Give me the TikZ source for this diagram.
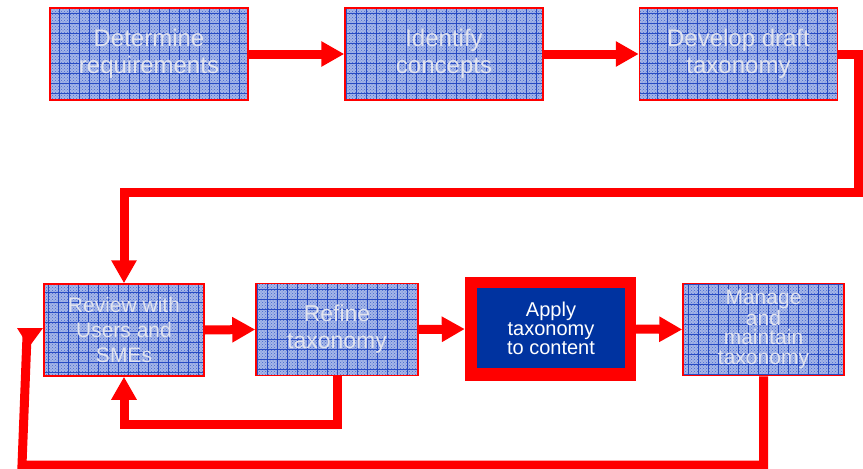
\documentclass[tikz,border=0pt]{standalone}
\usepackage{fontspec}
\setmainfont{Liberation Sans}
\usetikzlibrary{arrows.meta,patterns}
\definecolor{boxred}{RGB}{255,0,0}
\definecolor{boxfill}{RGB}{165,182,232}
\definecolor{boxdot}{RGB}{70,105,205}
\definecolor{gridblue}{RGB}{40,75,195}
\definecolor{txtgray}{RGB}{225,227,238}
\definecolor{applyblue}{RGB}{0,51,160}
\tikzset{
  tbox/.style={draw=boxred, line width=1.5pt, preaction={fill=boxfill},
    pattern=crosshatch dots, pattern color=boxdot,
    path picture={\draw[gridblue, line width=0.6pt]
      ([shift={(-3pt,-3pt)}]path picture bounding box.south west) grid[step=10pt]
      (path picture bounding box.north east);},
    text=txtgray, align=center, inner sep=0pt},
  topbox/.style={tbox, minimum width=198pt, minimum height=92pt, font=\fontsize{24}{27}\selectfont},
  botbox/.style={tbox, minimum width=161pt, minimum height=92pt},
  conn/.style={draw=boxred, line width=9pt, line join=miter},
  arr/.style={conn, -{Triangle[length=23pt,width=24pt]}}
}
\begin{document}
\begin{tikzpicture}[x=1pt,y=-1pt]
\useasboundingbox (0,0) rectangle (863,469);
% top row
\node[topbox] (b1) at (149,54) {Determine\\requirements};
\node[topbox] (b2) at (444,54) {Identify\\concepts};
\node[topbox] (b3) at (738.5,54) {Develop draft\\taxonomy};
% bottom row
\node[botbox, minimum width=160pt, font=\fontsize{21}{25}\selectfont] (rev) at (124,330) {Review with\\Users and\\SMEs};
\node[botbox, minimum width=162pt, font=\fontsize{23}{27}\selectfont] (ref) at (337,329.5) {Refine\\taxonomy};
\node[fill=boxred, minimum width=171pt, minimum height=104pt, inner sep=0pt] (app) at (550.5,329) {};
\node[fill=applyblue, minimum width=148pt, minimum height=80pt, inner sep=0pt, text=white, align=center, font=\fontsize{20}{19}\selectfont] (appin) at (551,328) {Apply\\taxonomy\\to content};
\node[botbox, font=\fontsize{21}{19.5}\selectfont] (man) at (763.5,329.5) {Manage\\and\\maintain\\taxonomy};
% coordinates
\coordinate (t1) at (858,192);
\coordinate (fb) at (337,424);
\coordinate (m2) at (22,465);
\coordinate (m3) at (27,336);
\coordinate (h1) at (17,328);
\coordinate (h2) at (43,328);
\coordinate (h3) at (29,347);
% connectors
\draw[arr] (b1.east) -- (b2.west);
\draw[arr] (b2.east) -- (b3.west);
\draw[arr] (b3.east) -| (t1) -| (rev.north);
\draw[arr] (rev.east) -- (ref.west);
\draw[arr] (ref.east) -- (app.west);
\draw[arr] (app.east) -- (man.west);
\draw[arr] (ref.south) -- (fb) -| (rev.south);
\draw[conn] (man.south) |- (m2) -- (m3);
\fill[boxred] (h1) -- (h2) -- (h3) -- cycle;
\end{tikzpicture}
\end{document}
